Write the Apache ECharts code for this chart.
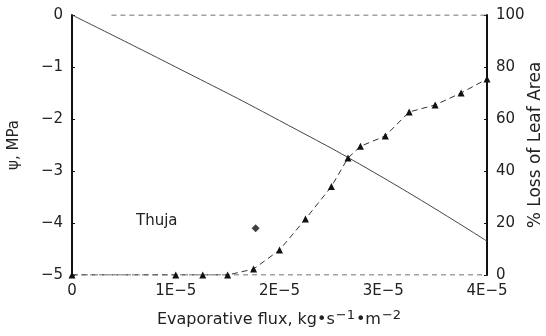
<!DOCTYPE html>
<html>
<head>
<meta charset="utf-8">
<script src="https://cdn.jsdelivr.net/npm/echarts@6/dist/echarts.min.js"></script>
<style>html,body{margin:0;padding:0;background:#fff;}#c{width:546px;height:336px;}</style>
</head>
<body>
<div id="c"></div>
<script>
var xTickLabels = ['0', '1E\u22125', '2E\u22125', '3E\u22125', '4E\u22125'];
var psiTickLabels = ['\u22125', '\u22124', '\u22123', '\u22122', '\u22121', '0'];
var lossTickLabels = ['0', '20', '40', '60', '80', '100'];

var psiFlux = [0, 1.0e-5, 2.0e-5, 3.0e-5, 4.0e-5];
var psiValues = [0, -1.0, -2.03, -3.13, -4.35];

var lossFlux = [0, 1.0e-5, 1.26e-5, 1.5e-5, 1.75e-5, 2.0e-5, 2.25e-5, 2.5e-5, 2.66e-5, 2.78e-5, 3.02e-5, 3.25e-5, 3.5e-5, 3.75e-5, 4.0e-5];
var lossValues = [0, 0, 0, 0, 2.3, 9.6, 21.5, 34, 45, 49.5, 53.5, 62.7, 65.4, 70, 75.4];

var outlierFlux = [1.77e-5];
var outlierLoss = [18];

var topLineFlux = [0.38e-5, 4.0e-5];
var topLineLoss = [100, 100];
var bottomLineFlux = [0, 4.0e-5];
var bottomLineLoss = [0, 0];

function pairs(xs, ys) { return xs.map(function (x, i) { return [x, ys[i]]; }); }

var FONT = 'DejaVu Sans';
var chart = echarts.init(document.getElementById('c'));
chart.setOption({
  animation: false,
  backgroundColor: '#fff',
  grid: { left: 72, right: 59, top: 15, bottom: 61, containLabel: false, outerBoundsMode: 'none' },
  xAxis: {
    type: 'value', min: 0, max: 4e-5, interval: 1e-5,
    axisLine: { show: false }, axisTick: { show: false }, splitLine: { show: false },
    axisLabel: {
      margin: 9, fontFamily: FONT, fontSize: 15, color: '#222',
      formatter: function (v) { return xTickLabels[Math.round(v / 1e-5)]; }
    },
    name: 'Evaporative flux, kg\u2022s{sup|\u22121}\u2022m{sup|\u22122}',
    nameLocation: 'middle', nameGap: 34,
    nameTextStyle: {
      fontFamily: FONT, fontSize: 16, color: '#222',
      rich: { sup: { fontFamily: FONT, fontSize: 13, color: '#222', verticalAlign: 'top', padding: [0, 1, 8, 1] } }
    }
  },
  yAxis: [{
    type: 'value', min: -5, max: 0, interval: 1, position: 'left',
    axisLine: { show: true, lineStyle: { color: '#111', width: 2 } },
    axisTick: { show: true, inside: true, length: 3, lineStyle: { color: '#111' } },
    splitLine: { show: false },
    axisLabel: {
      margin: 9, fontFamily: FONT, fontSize: 15, color: '#222',
      formatter: function (v) { return psiTickLabels[Math.round(v + 5)]; }
    },
    name: '\u03c8, MPa', nameLocation: 'middle', nameGap: 50, nameMoveOverlap: false,
    nameTextStyle: { fontFamily: FONT, fontSize: 15, color: '#222' }
  }, {
    type: 'value', min: 0, max: 100, interval: 20, position: 'right',
    axisLine: { show: true, lineStyle: { color: '#111', width: 2 } },
    axisTick: { show: true, inside: true, length: 3, lineStyle: { color: '#111' } },
    splitLine: { show: false },
    axisLabel: {
      margin: 9, fontFamily: FONT, fontSize: 15, color: '#222',
      formatter: function (v) { return lossTickLabels[Math.round(v / 20)]; }
    },
    name: '% Loss of Leaf Area', nameLocation: 'middle', nameGap: 40, nameMoveOverlap: false,
    nameTextStyle: { fontFamily: FONT, fontSize: 17, color: '#222' }
  }],
  graphic: [{
    type: 'text', left: 136, top: 214,
    style: { text: 'Thuja', fontFamily: FONT, fontSize: 15, fill: '#222' }
  }],
  series: [{
    type: 'line', yAxisIndex: 1, data: pairs(topLineFlux, topLineLoss),
    symbol: 'none', silent: true,
    lineStyle: { color: '#444', width: 1, type: [5, 4] }
  }, {
    type: 'line', yAxisIndex: 1, data: pairs(bottomLineFlux, bottomLineLoss),
    symbol: 'none', silent: true,
    lineStyle: { color: '#444', width: 1, type: [5, 4] }
  }, {
    type: 'line', yAxisIndex: 0, data: pairs(psiFlux, psiValues),
    symbol: 'none', smooth: true,
    lineStyle: { color: '#444', width: 1 }
  }, {
    type: 'line', yAxisIndex: 1, data: pairs(lossFlux, lossValues),
    symbol: 'triangle', symbolSize: 7, showAllSymbol: true,
    itemStyle: { color: '#111' },
    lineStyle: { color: '#333', width: 1, type: [6, 4] }
  }, {
    type: 'scatter', yAxisIndex: 1, data: pairs(outlierFlux, outlierLoss),
    symbol: 'diamond', symbolSize: 8,
    itemStyle: { color: '#111' }
  }]
});
</script>
</body>
</html>
